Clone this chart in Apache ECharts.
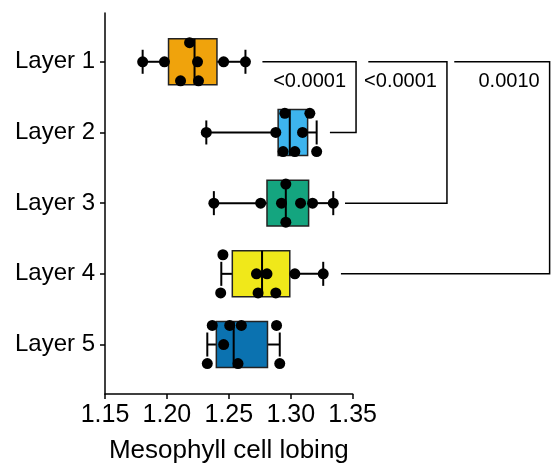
<!DOCTYPE html>
<html>
<head>
<meta charset="utf-8">
<script src="https://cdn.jsdelivr.net/npm/echarts@6/dist/echarts.min.js"></script>
<style>html,body{margin:0;padding:0;background:#fff}#c{width:551px;height:463px}</style>
</head>
<body>
<div id="c"></div>
<script>
// ---- data ----
const categories = ['Layer 1', 'Layer 2', 'Layer 3', 'Layer 4', 'Layer 5'];
const xTicks = [1.15, 1.20, 1.25, 1.30, 1.35];
const colors = ['#F0A30C', '#3DB4EE', '#14A57F', '#F0E81A', '#0B72B0'];

// box stats per layer: [min, Q1, median, Q3, max]
const boxLayer1 = [1.1804, 1.2013, 1.2223, 1.2404, 1.2634];
const boxLayer2 = [1.2318, 1.2898, 1.2992, 1.3136, 1.3209];
const boxLayer3 = [1.2379, 1.2808, 1.2960, 1.3144, 1.3343];
const boxLayer4 = [1.2439, 1.2528, 1.2768, 1.2992, 1.3262];
const boxLayer5 = [1.2326, 1.2399, 1.2539, 1.2812, 1.2911];

// individual observations and their swarm row (-1 above, 0 centre, 1 below)
const ptsLayer1 = [1.1804, 1.1980, 1.2183, 1.2247, 1.2110, 1.2255, 1.2458, 1.2634];
const rowLayer1 = [0, 0, -1, 0, 1, 1, 0, 0];
const ptsLayer2 = [1.2318, 1.2879, 1.2952, 1.3154, 1.3095, 1.2938, 1.3033, 1.3209];
const rowLayer2 = [0, 0, -1, -1, 0, 1, 1, 1];
const ptsLayer3 = [1.2379, 1.2757, 1.2960, 1.2925, 1.3079, 1.3176, 1.2960, 1.3343];
const rowLayer3 = [0, 0, -1, 0, 0, 0, 1, 0];
const ptsLayer4 = [1.2452, 1.2434, 1.2723, 1.2808, 1.2736, 1.2879, 1.3033, 1.3262];
const rowLayer4 = [-1, 1, 0, 0, 1, 1, 0, 0];
const ptsLayer5 = [1.2366, 1.2507, 1.2601, 1.2885, 1.2458, 1.2326, 1.2574, 1.2911];
const rowLayer5 = [-1, -1, -1, -1, 0, 1, 1, 1];

// significance brackets: Layer 1 vs Layer N
const pLabels = ['<0.0001', '<0.0001', '0.0010'];
const pTarget = [2, 3, 4];
const pBracketX = [1.3527, 1.4261, 1.5090];
const pStartTop = [1.2771, 1.3626, 1.4320];
const pStartBottom = [1.3316, 1.3438, 1.3405];

// ---- build ----
const boxes = [boxLayer1, boxLayer2, boxLayer3, boxLayer4, boxLayer5];
const pts = [ptsLayer1, ptsLayer2, ptsLayer3, ptsLayer4, ptsLayer5];
const rows = [rowLayer1, rowLayer2, rowLayer3, rowLayer4, rowLayer5];
const ROW_STEP = 0.27, BOX_HALF = 0.325, CAP_HALF = 0.17;

const boxData = boxes.map((b, i) => [i + 1].concat(b));
const scatterData = [];
pts.forEach((arr, i) => arr.forEach((v, j) => scatterData.push([v, i + 1 + rows[i][j] * ROW_STEP])));
const bracketData = pLabels.map((l, i) => [i]);

const chart = echarts.init(document.getElementById('c'));
const FONT = 'Liberation Sans, Arial, sans-serif';
chart.setOption({
  animation: false,
  grid: { left: 105, right: 198.3, top: 13, bottom: 69, containLabel: false, outerBoundsMode: 'none' },
  xAxis: {
    type: 'value', min: 1.15, max: 1.35, interval: 0.05,
    name: 'Mesophyll cell lobing', nameLocation: 'middle', nameGap: 44,
    nameTextStyle: { fontFamily: FONT, fontSize: 26, color: '#000' },
    axisLine: { lineStyle: { color: '#000', width: 1.5 } },
    axisTick: { length: 5, lineStyle: { color: '#000', width: 1.5 } },
    axisLabel: { fontFamily: FONT, fontSize: 25, color: '#000', margin: 9,
      formatter: v => v.toFixed(2) },
    splitLine: { show: false }
  },
  yAxis: {
    type: 'value', inverse: true, min: 0.31, max: 5.70,
    axisLine: { show: true, lineStyle: { color: '#000', width: 1.5 } },
    axisTick: { show: true, length: 5, customValues: [1, 2, 3, 4, 5], lineStyle: { color: '#000', width: 1.5 } },
    axisLabel: { fontFamily: FONT, fontSize: 24, color: '#000', margin: 10,
      customValues: [1, 2, 3, 4, 5], formatter: v => categories[Math.round(v) - 1] },
    splitLine: { show: false }
  },
  series: [
    {
      type: 'custom', clip: false, z: 2,
      data: boxData,
      encode: { x: [1, 2, 3, 4, 5], y: 0 },
      renderItem: (params, api) => {
        const y = api.value(0);
        const mn = api.value(1), q1 = api.value(2), md = api.value(3), q3 = api.value(4), mx = api.value(5);
        const c = (x, yy) => api.coord([x, yy]);
        const line = (a, b, w) => ({ type: 'line', shape: { x1: a[0], y1: a[1], x2: b[0], y2: b[1] },
          style: { stroke: '#000', lineWidth: w } });
        const tl = c(q1, y - BOX_HALF), br = c(q3, y + BOX_HALF);
        return { type: 'group', children: [
          line(c(mn, y), c(q1, y), 2),
          line(c(q3, y), c(mx, y), 2),
          line(c(mn, y - CAP_HALF), c(mn, y + CAP_HALF), 2),
          line(c(mx, y - CAP_HALF), c(mx, y + CAP_HALF), 2),
          { type: 'rect', shape: { x: tl[0], y: tl[1], width: br[0] - tl[0], height: br[1] - tl[1] },
            style: { fill: colors[params.dataIndex], stroke: '#222', lineWidth: 1.5 } },
          line(c(md, y - BOX_HALF), c(md, y + BOX_HALF), 2)
        ] };
      }
    },
    {
      type: 'scatter', z: 3, symbol: 'circle', symbolSize: 11,
      itemStyle: { color: '#000', opacity: 1 },
      emphasis: { disabled: true },
      data: scatterData
    },
    {
      type: 'custom', clip: false, z: 2,
      data: bracketData,
      renderItem: (params, api) => {
        const i = params.dataIndex;
        const c = (x, yy) => api.coord([x, yy]);
        const a = c(pStartTop[i], 1), b = c(pBracketX[i], 1), d = c(pBracketX[i], pTarget[i]), e = c(pStartBottom[i], pTarget[i]);
        return { type: 'group', children: [
          { type: 'polyline', shape: { points: [a, b, d, e] }, style: { stroke: '#000', lineWidth: 1.5, fill: null } },
          { type: 'text', x: b[0] - 10, y: b[1] + 20,
            style: { text: pLabels[i], fontFamily: FONT, fontSize: 20, fill: '#000', align: 'right', verticalAlign: 'middle' } }
        ] };
      }
    }
  ]
});
</script>
</body>
</html>
